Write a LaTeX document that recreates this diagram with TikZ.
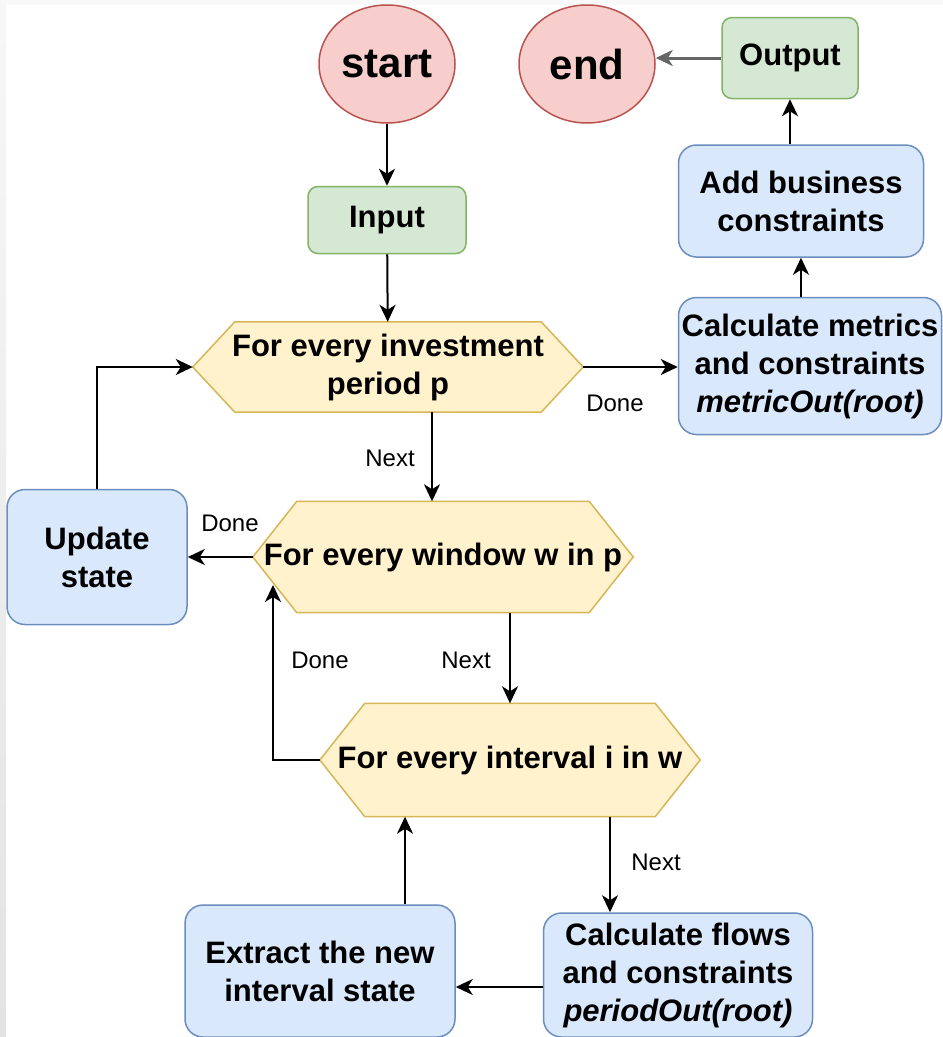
\documentclass[tikz,border=0pt]{standalone}
\usepackage{fontspec}
\setmainfont{Liberation Sans}
\usetikzlibrary{positioning,shapes.geometric,arrows.meta,backgrounds}

\begin{document}
\begin{tikzpicture}[x=1pt,y=-1pt,font=\bfseries\fontsize{31}{38}\selectfont]
  % Loop structure of the solver: nested hexagons iterate, boxes do the work.
  \definecolor{termfill}{HTML}{F8CECC}
  \definecolor{termline}{HTML}{B85450}
  \definecolor{iofill}{HTML}{D5E8D4}
  \definecolor{ioline}{HTML}{82B366}
  \definecolor{stepfill}{HTML}{DAE8FC}
  \definecolor{stepline}{HTML}{6C8EBF}
  \definecolor{loopfill}{HTML}{FFF2CC}
  \definecolor{loopline}{HTML}{D6B656}
  \useasboundingbox (0,0) rectangle (943,1037);

  \tikzset{terminal/.style={ellipse,draw=termline,fill=termfill,line width=1.5pt,minimum width=136pt,minimum height=118pt,inner sep=0pt,font=\bfseries\fontsize{42}{50}\selectfont},
            iobox/.style={rectangle,rounded corners=10pt,draw=ioline,fill=iofill,line width=1.5pt,inner sep=0pt},
            stepbox/.style={rectangle,rounded corners=18pt,draw=stepline,fill=stepfill,line width=1.5pt,align=center,inner sep=0pt},
            loopbox/.style={rectangle,align=center,inner sep=0pt},
            flow/.style={line width=2pt,-{Stealth[length=17pt,width=16pt,inset=5pt]}},
            edgetext/.style={font=\mdseries\fontsize{24}{28}\selectfont,inner sep=1pt}}

  \node[terminal] (start) at (387,64) {start};
  \node[terminal] (end) at (587,64) {end};
  \node[iobox,minimum width=136pt,minimum height=81pt] (output) at (790,58) {Output};
  \node[iobox,minimum width=158pt,minimum height=67pt] (input) at (387,220) {Input};
  \node[stepbox,minimum width=245pt,minimum height=112pt] (business) at (801,201) {Add business\\constraints};
  \node[stepbox,minimum width=263pt,minimum height=137pt] (metrics) at (810,366) {Calculate metrics\\and constraints\\\textit{metricOut(root)}};
  \node[stepbox,minimum width=180pt,minimum height=135pt] (update) at (97,557) {Update\\state};
  \node[stepbox,minimum width=270pt,minimum height=132pt] (extract) at (320,971) {Extract the new\\interval state};
  \node[stepbox,minimum width=269pt,minimum height=124pt] (flows) at (678,975) {Calculate flows\\and constraints\\\textit{periodOut(root)}};

  \node[loopbox,minimum width=390pt,minimum height=90pt] (period) at (388,367) {For every investment\\period p};
  \node[loopbox,minimum width=380pt,minimum height=111pt] (window) at (443,557) {For every window w in p};
  \node[loopbox,minimum width=380pt,minimum height=113pt] (interval) at (510,760) {For every interval i in w};

  \begin{pgfonlayer}{background}
    \fill[white] (0,0) rectangle (943,1037);
    \shade[top color=gray!6,bottom color=gray!22] (0,0) rectangle (6,1037);
    \fill[gray!5] (6,0) rectangle (943,5);
    \foreach \h/\d in {period/42,window/44,interval/45}
      \filldraw[draw=loopline,fill=loopfill,line width=1.5pt]
        ([xshift=\d pt]\h.north west) -- ([xshift=-\d pt]\h.north east) -- (\h.east)
        -- ([xshift=-\d pt]\h.south east) -- ([xshift=\d pt]\h.south west) -- (\h.west) -- cycle;
  \end{pgfonlayer}

  \coordinate (windowin) at (273,585);

  \draw[flow] (start) -- (input);
  \draw[flow] (input) -- (period);
  \draw[flow] (period.east) -- (period.east -| metrics.west);
  \draw[flow] (metrics.north -| business.south) -- (business.south);
  \draw[flow] (business.north -| output.south) -- (output.south);
  \draw[flow,draw=gray!80!black,line width=3pt] (output.west) -- (output.west -| end.east);
  \draw[flow] (432,0 |- period.south) -- (432,0 |- window.north);
  \draw[flow] (window.west) -- (update.east);
  \draw[flow] (update.north) |- (period.west);
  \draw[flow] (window.south -| interval.north) -- (interval.north);
  \draw[flow] (interval.west) -| (windowin);
  \draw[flow] (610,0 |- interval.south) -- (610,0 |- flows.north);
  \draw[flow] ([yshift=-12pt]flows.west) -- ([yshift=-12pt]flows.west -| extract.east);
  \draw[flow] (405,0 |- extract.north) -- (405,0 |- interval.south);

  \node[edgetext] (done1) at (615,403) {Done};
  \node[edgetext] (next1) at (390,458) {Next};
  \node[edgetext] (done2) at (230,523) {Done};
  \node[edgetext] (done3) at (320,660) {Done};
  \node[edgetext] (next2) at (466,660) {Next};
  \node[edgetext] (next3) at (656,862) {Next};
\end{tikzpicture}
\end{document}
